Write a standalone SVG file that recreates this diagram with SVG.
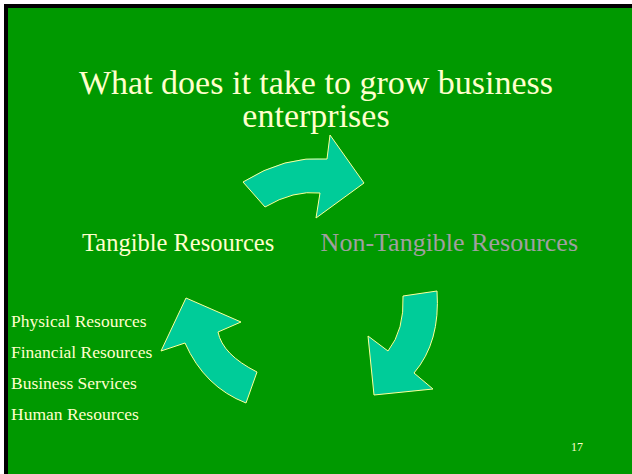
<svg xmlns="http://www.w3.org/2000/svg" width="632" height="474" viewBox="0 0 632 474">
<style>
.t{font-family:"Liberation Serif","Times New Roman",serif;fill:#FFFFCC}
.arr{fill:#00CC99;stroke:#FFFF99;stroke-width:1;stroke-linejoin:miter}
</style>
<rect x="0" y="0" width="632" height="474" fill="#FFFFFF"/>
<rect x="4" y="4" width="628" height="470" fill="#000000"/>
<rect x="8" y="8" width="624" height="466" fill="#009900"/>
<g id="title">
<text class="t" x="316" y="94" font-size="34" text-anchor="middle">What does it take to grow business</text>
<text class="t" x="316" y="127" font-size="34" text-anchor="middle">enterprises</text>
</g>
<g id="connectors">
<path class="arr" d="M243,182 Q285,155.5 327,159 L330,135 L364,183 L316,218 L320,193 Q293.5,190 265,207 Z"/>
<path class="arr" d="M403,296 L437,291 Q440.5,342 414,373 L433,389 L374,395 L368,336 L388,351 Q404.5,330 403,296 Z"/>
<path class="arr" d="M186,298 L241,322 L218,332 Q222.5,354.6 257,372 L246,403 Q204.5,387 185,343 L161,351 Z"/>
</g>
<g id="tangible">
<text class="t" x="82" y="251" font-size="24.5">Tangible Resources</text>
</g>
<g id="nontangible">
<text class="t" x="578" y="251" font-size="26" text-anchor="end" style="fill:#A0A0A0">Non-Tangible Resources</text>
</g>
<g id="list">
<text class="t" x="11" y="326.5" font-size="17.5">Physical Resources</text>
<text class="t" x="11" y="357.5" font-size="17.5">Financial Resources</text>
<text class="t" x="11" y="388.5" font-size="17.5">Business Services</text>
<text class="t" x="11" y="419.5" font-size="17.5">Human Resources</text>
</g>
<g id="pagenum">
<text class="t" x="571" y="451" font-size="12">17</text>
</g>
</svg>
